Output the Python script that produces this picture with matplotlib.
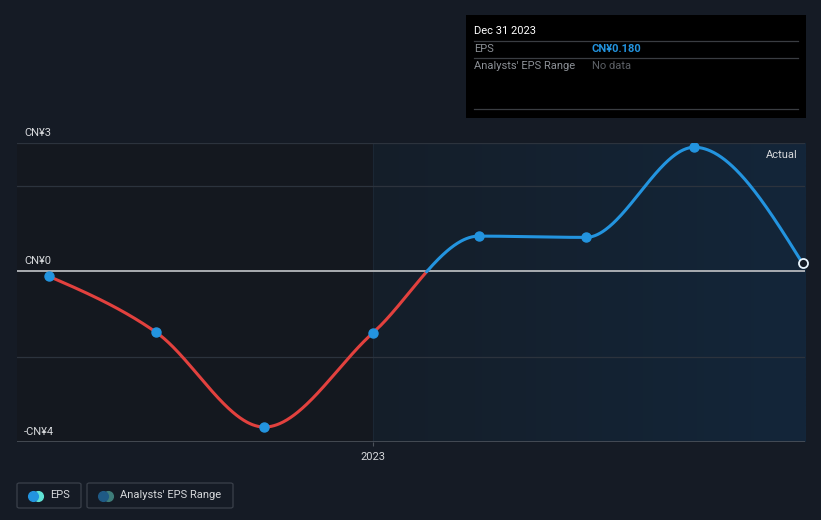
import numpy as np
import matplotlib.pyplot as plt
import matplotlib.dates as mdates
from matplotlib.patches import Rectangle, FancyBboxPatch
from matplotlib.colors import to_rgb
import datetime as dt

plt.rcParams['font.family'] = ['Roboto', 'DejaVu Sans']

# data (trailing EPS, CN¥)
dates = ["2022-03-31", "2022-06-30", "2022-09-30", "2022-12-31",
         "2023-03-31", "2023-06-30", "2023-09-30", "2023-12-31"]
eps = [-0.12, -1.43, -3.65, -1.45, 0.82, 0.79, 2.90, 0.18]
ytick_vals = [3, 0, -4]
ytick_labels = ["CN¥3", "CN¥0", "-CN¥4"]
grid_vals = [3, 2, 0, -2, -4]

BG = "#151b25"
BLUE = "#2394df"
RED = "#e2413e"
TXT = "#d6d8db"


def monotone(x, y, n=60):
    x = np.asarray(x, float); y = np.asarray(y, float)
    h = np.diff(x); s = np.diff(y) / h
    t = np.zeros_like(y)
    for i in range(1, len(y) - 1):
        p = (s[i - 1] * h[i] + s[i] * h[i - 1]) / (h[i - 1] + h[i])
        t[i] = (np.sign(s[i - 1]) + np.sign(s[i])) * min(abs(s[i - 1]), abs(s[i]), 0.5 * abs(p))
    t[0] = (3 * s[0] - t[1]) / 2
    t[-1] = (3 * s[-1] - t[-2]) / 2
    xs, ys = [], []
    for i in range(len(h)):
        u = np.linspace(0, 1, n, endpoint=False)
        h00 = 2*u**3 - 3*u**2 + 1; h10 = u**3 - 2*u**2 + u
        h01 = -2*u**3 + 3*u**2; h11 = u**3 - u**2
        xs.append(x[i] + u * h[i])
        ys.append(h00*y[i] + h10*h[i]*t[i] + h01*y[i+1] + h11*h[i]*t[i+1])
    xs.append([x[-1]]); ys.append([y[-1]])
    return np.concatenate(xs), np.concatenate(ys)


xd = mdates.datestr2num(dates)
cx, cy = monotone(xd, eps, n=120)

fig = plt.figure(figsize=(8.21, 5.2), dpi=100, facecolor=BG)
W, H = 821, 520
ax = fig.add_axes([17 / W, 1 - 442 / H, (805 - 17) / W, (442 - 143) / H])
ax.set_facecolor("#14181f")
x0 = mdates.date2num(dt.datetime(2022, 3, 4))
x1 = mdates.date2num(dt.datetime(2024, 1, 2))
xs23 = mdates.date2num(dt.datetime(2022, 12, 31))

# shaded "actual" region, horizontal gradient
c_a, c_b = np.array(to_rgb("#151e29")), np.array(to_rgb("#13263a"))
g = np.linspace(0, 1, 256)[None, :, None]
grad = c_a + (c_b - c_a) * g
ax.imshow(grad, extent=[xs23, x1, -4, 3], aspect="auto", zorder=0, interpolation="bilinear")
ax.set_xlim(x0, x1)
ax.set_ylim(-4, 3)
ax.axvline(xs23, color="#1b2734", lw=0.8, zorder=0.5)

for gv in grid_vals:
    if gv == 0:
        ax.axhline(gv, color="#b5b8bc", lw=1.3, zorder=1)
    elif gv == -4:
        ax.axhline(gv, color="#4c525b", lw=1.2, zorder=1)
    else:
        ax.axhline(gv, color="#2c333d", lw=0.9, zorder=1)

# colour line by sign
pos = np.where(cy >= -0.02, cy, np.nan)
neg = np.where(cy <= 0.02, cy, np.nan)
ax.plot(cx, neg, color=RED, lw=2.2, zorder=3, solid_capstyle="round")
ax.plot(cx, pos, color=BLUE, lw=2.2, zorder=3, solid_capstyle="round")
ax.plot(xd[:-1], eps[:-1], "o", color=BLUE, ms=6.5, zorder=4)
ax.plot(xd[-1:], eps[-1:], "o", mfc=BG, mec="#e8f4fc", mew=1.3, ms=6.5, zorder=4, clip_on=False)

for v, lab in zip(ytick_vals, ytick_labels):
    ax.text(x0 + 6, v + 0.12, lab, color=TXT, fontsize=8, va="bottom", ha="left")

ax.text(x1 - 6, 2.72, "Actual", color=TXT, fontsize=8, ha="right", va="center")

ax.set_xticks([xs23])
ax.set_xticklabels(["2023"], color=TXT, fontsize=8)
ax.tick_params(axis="x", length=3, color="#4c525b", pad=4)
ax.set_yticks([])
for sp in ax.spines.values():
    sp.set_visible(False)

# tooltip box
fig.patches.append(Rectangle((466 / W, 1 - 118 / H), (806 - 466) / W, (118 - 15) / H,
                             transform=fig.transFigure, facecolor="#000000", edgecolor="none"))
for yy in [41, 58, 109]:
    fig.add_artist(plt.Line2D([474 / W, 798 / W], [1 - yy / H] * 2, color="#3a3d42", lw=0.9))
fig.text(474 / W, 1 - 31 / H, "Dec 31 2023", color="#ffffff", fontsize=8, va="center")
fig.text(474 / W, 1 - 49 / H, "EPS", color="#8c9096", fontsize=8, va="center")
fig.text(592 / W, 1 - 49 / H, "CN¥0.180", color=BLUE, fontsize=8, va="center", fontweight="bold")
fig.text(474 / W, 1 - 66 / H, "Analysts' EPS Range", color="#8c9096", fontsize=8, va="center")
fig.text(592 / W, 1 - 66 / H, "No data", color="#5c6066", fontsize=8, va="center")

# legend
for (lx, lw_, label, c1, c2) in [(17, 64, "EPS", BLUE, "#5fe3d5"),
                                  (87, 146, "Analysts' EPS Range", "#1f5a85", "#3e7d7a")]:
    fig.patches.append(FancyBboxPatch((lx / W, 1 - 508 / H), lw_ / W, 25 / H,
                                      boxstyle="round,pad=0,rounding_size=0.003",
                                      transform=fig.transFigure, facecolor="none",
                                      edgecolor="#3a404a", lw=0.9))
    fig.add_artist(plt.Line2D([(lx + 21) / W], [1 - 495.5 / H], marker="o", ms=7, color=c2, lw=0))
    fig.add_artist(plt.Line2D([(lx + 16) / W], [1 - 495.5 / H], marker="o", ms=7, color=c1, lw=0))
    fig.text((lx + 33) / W, 1 - 495.5 / H, label, color=TXT, fontsize=8, va="center")

fig.savefig("out.png", dpi=100, facecolor=BG)
